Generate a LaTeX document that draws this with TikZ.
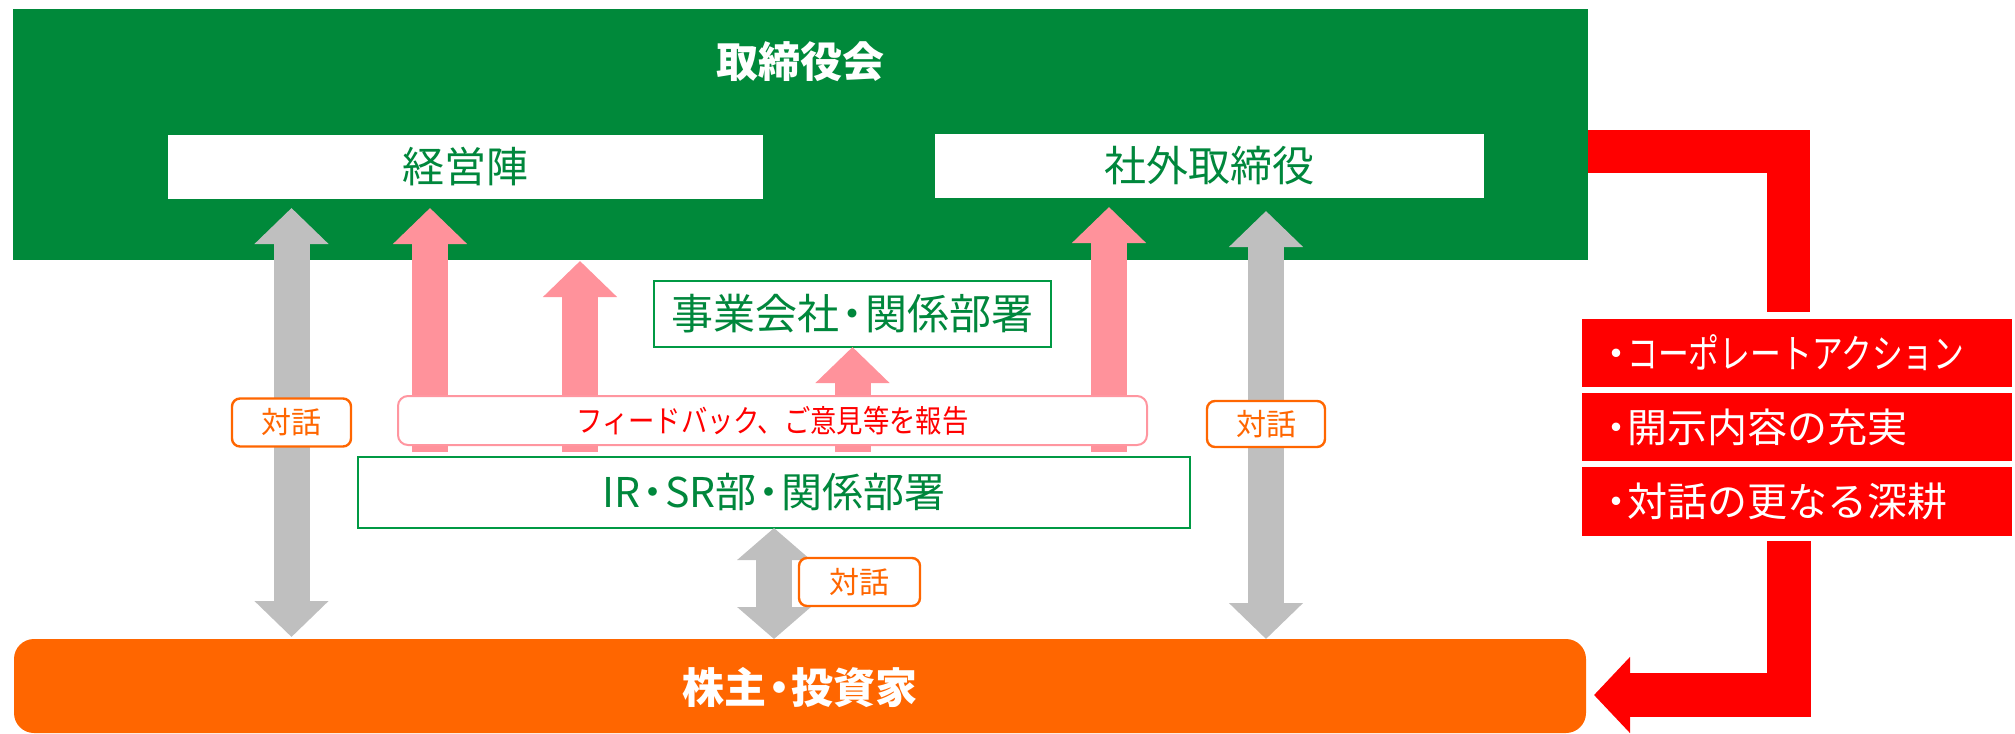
\documentclass[tikz,border=0pt]{standalone}
\usepackage{graphicx}
\usepackage{fontspec}
\setmainfont{Noto Sans CJK JP}
\usetikzlibrary{arrows.meta}
\definecolor{bgreen}{RGB}{0,137,58}
\definecolor{lgreen}{RGB}{0,153,68}
\definecolor{tgreen}{RGB}{0,135,60}
\definecolor{arrgray}{RGB}{191,191,191}
\definecolor{arrpink}{RGB}{255,146,155}
\definecolor{fbpink}{RGB}{255,150,160}
\definecolor{borange}{RGB}{255,102,0}
\definecolor{bred}{RGB}{255,0,0}
\newcommand{\tightdot}{\kern-0.2em・\kern-0.2em}
\newcommand{\bulletdot}{・\kern-0.22em}
\tikzset{
  plain/.style={rectangle, inner sep=0pt, outer sep=0pt},
  whitebox/.style={plain, fill=white, text=tgreen, font=\fontsize{21pt}{25pt}\selectfont},
  framebox/.style={whitebox, draw=lgreen, line width=1.3pt},
  talkbox/.style={plain, fill=white, draw=borange, line width=1.2pt, rounded corners=4pt,
    text=borange, font=\fontsize{15pt}{18pt}\selectfont, minimum height=24pt},
  redbox/.style={plain, fill=bred, text=white, minimum width=215pt, text width=201pt,
    inner xsep=7pt, align=left, font=\fontsize{20pt}{24pt}\selectfont},
  grayarrow/.style={draw=arrgray, line width=18pt,
    arrows={Triangle[width=36pt,length=18pt]-Triangle[width=36pt,length=18pt]}},
  pinkarrow/.style={draw=arrpink, line width=18pt,
    arrows={-Triangle[width=36pt,length=18pt]}},
}
\begin{document}
\begin{tikzpicture}[x=0.5pt,y=-0.5pt]
\useasboundingbox (0,0) rectangle (2015,734);
% board of directors
\node[plain, fill=bgreen, minimum width=787.5pt, minimum height=125.5pt] (board) at (800.5,134.5) {};
\node[text=white, font=\bfseries\fontsize{21pt}{25pt}\selectfont] (title) at (800,62) {取締役会};
\node[whitebox, minimum width=297.5pt, minimum height=32pt] (mgmt) at (465.5,167) {経営陣};
\node[whitebox, minimum width=274.5pt, minimum height=32pt] (outside) at (1209.5,166) {社外取締役};
% group companies
\node[framebox, minimum width=198.5pt, minimum height=33pt] (group) at (852.5,314) {事業会社\tightdot 関係部署};
% shareholders
\node[plain, fill=borange, rounded corners=10pt, minimum width=786pt, minimum height=47pt] (sh) at (800,686) {};
\node[text=white, font=\bfseries\fontsize{21pt}{25pt}\selectfont] (shtext) at (800,688) {株主\tightdot 投資家};
% coordinates
\coordinate (g1t) at (291.5,208);
\coordinate (g1b) at (291.5,637);
\coordinate (g2t) at (1266,211);
\coordinate (g2b) at (1266,639);
\coordinate (p1s) at (430,452);
\coordinate (p1e) at (430,208);
\coordinate (p2s) at (580,452);
\coordinate (p2e) at (580,261);
\coordinate (p3s) at (852.5,452);
\coordinate (p4s) at (1109,452);
\coordinate (p4e) at (1109,207);
% arrows
\draw[grayarrow] (g1t) -- (g1b);
\draw[grayarrow] (g2t) -- (g2b);
\draw[pinkarrow] (p1s) -- (p1e);
\draw[pinkarrow] (p2s) -- (p2e);
\draw[pinkarrow] (p3s) -- (group.south);
\draw[pinkarrow] (p4s) -- (p4e);
% feedback
\node[plain, fill=white, draw=fbpink, line width=1pt, rounded corners=5pt, minimum width=374.5pt, minimum height=24.5pt,
  text=bred, font=\fontsize{15.5pt}{18pt}\selectfont] (fb) at (772.5,420.5) {\scalebox{0.85}[1]{フィードバック、ご意見等を報告}};
% IR
\node[framebox, minimum width=416pt, minimum height=35.5pt, font=\fontsize{20.5pt}{24pt}\selectfont] (ir) at (774,492.5) {IR\tightdot SR部\tightdot 関係部署};
\draw[grayarrow, arrows={Triangle[width=36pt,length=16pt]-Triangle[width=36pt,length=16pt]}] (ir.south) -- (ir.south |- sh.north);
% dialogue labels
\node[talkbox, minimum width=59.5pt] (d1) at (291.5,422.5) {対話};
\node[talkbox, minimum width=59pt, minimum height=23pt] (d2) at (1266,424) {対話};
\node[talkbox, minimum width=60.5pt] (d3) at (859.5,582) {対話};
% red action boxes
\node[redbox, minimum height=34pt] (r1) at (1797,353) {\bulletdot\scalebox{0.77}[1]{コーポレートアクション}};
\node[redbox, minimum height=34pt] (r2) at (1797,427) {\bulletdot 開示内容の充実};
\node[redbox, minimum height=34.5pt] (r3) at (1797,501.5) {\bulletdot 対話の更なる深耕};
% red elbow arrow
\coordinate (e1) at (1788.5,151.5);
\coordinate (e2) at (1788.5,312);
\coordinate (e3) at (1788.5,541);
\coordinate (e4) at (1788.5,695);
\coordinate (e5) at (1594,695);
\draw[bred, line width=21.5pt, line join=miter] (board.east |- e1) -- (e1) -- (e2);
\draw[bred, line width=22pt, line join=miter, arrows={-Triangle[width=37pt,length=18pt]}] (e3) -- (e4) -- (e5);
\end{tikzpicture}
\end{document}
